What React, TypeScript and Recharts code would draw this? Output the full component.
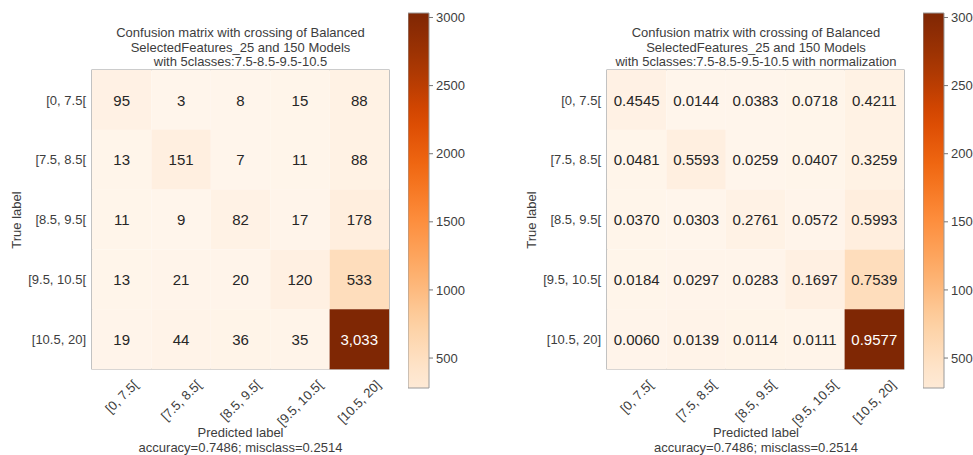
import { Bar, BarChart, Cell, LabelList, ReferenceArea, XAxis, YAxis } from "recharts";

// classes des deux axes (vrai / prédit)
const classes = ["[0, 7.5[", "[7.5, 8.5[", "[8.5, 9.5[", "[9.5, 10.5[", "[10.5, 20]"];

const counts = [
  [95, 3, 8, 15, 88],
  [13, 151, 7, 11, 88],
  [11, 9, 82, 17, 178],
  [13, 21, 20, 120, 533],
  [19, 44, 36, 35, 3033],
];

const normalized = [
  [0.4545, 0.0144, 0.0383, 0.0718, 0.4211],
  [0.0481, 0.5593, 0.0259, 0.0407, 0.3259],
  [0.037, 0.0303, 0.2761, 0.0572, 0.5993],
  [0.0184, 0.0297, 0.0283, 0.1697, 0.7539],
  [0.006, 0.0139, 0.0114, 0.0111, 0.9577],
];

const colorbarTicks = [500, 1000, 1500, 2000, 2500, 3000];
const colorbarRange = [280, 3033];

const titleLeft = [
  "Confusion matrix with crossing of Balanced",
  "SelectedFeatures_25 and 150 Models",
  "with 5classes:7.5-8.5-9.5-10.5",
];
const titleRight = [
  "Confusion matrix with crossing of Balanced",
  "SelectedFeatures_25 and 150 Models",
  "with 5classes:7.5-8.5-9.5-10.5 with normalization",
];
const xLabel = ["Predicted label", "accuracy=0.7486; misclass=0.2514"];

// palette "Oranges" (ColorBrewer 9 classes)
const ORANGES = ["#fff5eb", "#fee6ce", "#fdd0a2", "#fdae6b", "#fd8d3c", "#f16913", "#d94801", "#a63603", "#7f2704"];
const VMIN = 3;
const VMAX = 3033;

function hex(c: string) {
  return [1, 3, 5].map((i) => parseInt(c.slice(i, i + 2), 16));
}

function orange(v: number) {
  const t = Math.min(1, Math.max(0, (v - VMIN) / (VMAX - VMIN)));
  const p = t * (ORANGES.length - 1);
  const i = Math.min(ORANGES.length - 2, Math.floor(p));
  const f = p - i;
  const a = hex(ORANGES[i]);
  const b = hex(ORANGES[i + 1]);
  const rgb = a.map((x, k) => Math.round(x + (b[k] - x) * f));
  return `rgb(${rgb.join(",")})`;
}

const FONT = '"Liberation Sans", Arial, Helvetica, sans-serif';
const TXT = "#3d3d3d";

// largeur approx. d'un libellé (métriques Arial) pour centrer la boîte tournée
function textWidth(s: string, size: number) {
  let w = 0;
  for (const ch of s) w += /[0-9]/.test(ch) ? 0.556 : 0.278;
  return w * size;
}

function RotatedTick(props: any) {
  const { x, y, payload } = props;
  const label = classes[Math.floor(payload.value)];
  const half = (textWidth(label, 13) + 13) / (2 * Math.SQRT2);
  const cy = y + half;
  return (
    <text
      x={x}
      y={cy}
      textAnchor="middle"
      dominantBaseline="central"
      fontSize={13}
      fill={TXT}
      fontFamily={FONT}
      transform={`rotate(-45, ${x}, ${cy})`}
    >
      {label}
    </text>
  );
}

function Matrix({ values, fmt }: { values: number[][]; fmt: (v: number) => string }) {
  const data = classes.map((label, i) => {
    const row: any = { label };
    values[i].forEach((v, j) => {
      row[`c${j}`] = 1;
      row[`t${j}`] = fmt(v);
    });
    return row;
  });
  const thresh = VMAX / 2;

  return (
    <BarChart
      width={400}
      height={455}
      data={data}
      layout="vertical"
      margin={{ top: 70, right: 11, bottom: 0, left: 0 }}
      barCategoryGap={0}
    >
      <XAxis
        type="number"
        domain={[0, 5]}
        ticks={[0.5, 1.5, 2.5, 3.5, 4.5]}
        height={86}
        axisLine={false}
        tickLine={false}
        tickSize={7}
        tickMargin={2}
        tick={<RotatedTick />}
      />
      <YAxis
        type="category"
        dataKey="label"
        width={92}
        axisLine={false}
        tickLine={false}
        tickSize={4}
        tickMargin={2}
        tick={{ fontSize: 13, fill: TXT, fontFamily: FONT }}
      />
      {classes.map((_, j) => (
        <Bar key={j} dataKey={`c${j}`} stackId="m" isAnimationActive={false}>
          {classes.map((__, i) => (
            <Cell key={i} fill={orange(counts[i][j])} />
          ))}
          <LabelList
            dataKey={`t${j}`}
            content={(p: any) => (
              <text
                x={p.x + p.width / 2}
                y={p.y + p.height / 2}
                textAnchor="middle"
                dominantBaseline="central"
                fontSize={15}
                fontFamily={FONT}
                fill={counts[p.index][j] > thresh ? "#ffffff" : "#262626"}
              >
                {p.value}
              </text>
            )}
          />
        </Bar>
      ))}
      <ReferenceArea x1={0} x2={5} fill="none" stroke="#9a9a9a" strokeWidth={1.2} />
    </BarChart>
  );
}

function Colorbar({ id }: { id: string }) {
  const [lo, hi] = colorbarRange;
  const stops = Array.from({ length: 21 }, (_, k) => k / 20);
  return (
    <BarChart
      width={70}
      height={455}
      data={[{ k: "cb", r: colorbarRange }]}
      margin={{ top: 13, right: 0, bottom: 67, left: 0 }}
      barCategoryGap={0}
    >
      <defs>
        <linearGradient id={id} x1="0" y1="1" x2="0" y2="0">
          {stops.map((o) => (
            <stop key={o} offset={o} stopColor={orange(lo + o * (hi - lo))} />
          ))}
        </linearGradient>
      </defs>
      <XAxis dataKey="k" hide />
      <YAxis
        orientation="right"
        type="number"
        domain={colorbarRange}
        ticks={colorbarTicks}
        width={49}
        axisLine={false}
        tickSize={4}
        tickMargin={3}
        tickLine={{ stroke: "#777" }}
        tick={{ fontSize: 13, fill: TXT, fontFamily: FONT }}
      />
      <Bar dataKey="r" fill={`url(#${id})`} stroke="#9a9a9a" isAnimationActive={false} />
    </BarChart>
  );
}

function Lines({ lines, cx, top }: { lines: string[]; cx: number; top: number }) {
  return (
    <div
      style={{
        position: "absolute",
        left: cx - 200,
        top,
        width: 400,
        textAlign: "center",
        fontSize: 13,
        lineHeight: "14.5px",
        color: TXT,
        fontFamily: FONT,
      }}
    >
      {lines.map((l) => (
        <div key={l}>{l}</div>
      ))}
    </div>
  );
}

function TrueLabel({ cx }: { cx: number }) {
  return (
    <div
      style={{
        position: "absolute",
        left: cx - 50,
        top: 220 - 8,
        width: 100,
        height: 16,
        lineHeight: "16px",
        textAlign: "center",
        fontSize: 13,
        color: TXT,
        fontFamily: FONT,
        transform: "rotate(-90deg)",
      }}
    >
      True label
    </div>
  );
}

export default function App() {
  return (
    <div
      style={{
        position: "absolute",
        left: 0,
        top: 0,
        width: 973,
        height: 455,
        overflow: "hidden",
        background: "#fff",
      }}
    >
      <div style={{ position: "absolute", left: 0, top: 0 }}>
        <Matrix values={counts} fmt={(v) => v.toLocaleString("en-US")} />
      </div>
      <div style={{ position: "absolute", left: 408, top: 0 }}>
        <Colorbar id="cbLeft" />
      </div>
      <div style={{ position: "absolute", left: 515, top: 0 }}>
        <Matrix values={normalized} fmt={(v) => v.toFixed(4)} />
      </div>
      <div style={{ position: "absolute", left: 923, top: 0 }}>
        <Colorbar id="cbRight" />
      </div>

      <Lines lines={titleLeft} cx={240.5} top={26} />
      <Lines lines={titleRight} cx={756} top={26} />
      <Lines lines={xLabel} cx={240.5} top={426} />
      <Lines lines={xLabel} cx={756} top={426} />
      <TrueLabel cx={17} />
      <TrueLabel cx={532} />
    </div>
  );
}
